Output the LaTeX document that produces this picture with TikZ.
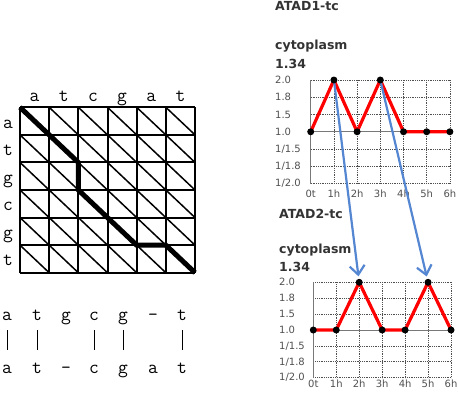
\documentclass[tikz,border=0pt]{standalone}
\usepackage{fontspec}
\usetikzlibrary{arrows.meta}
\newfontfamily\chartfont{DejaVu Sans}
\definecolor{arrowblue}{RGB}{84,134,210}
\definecolor{axisgray}{RGB}{120,120,120}
\definecolor{labelgray}{RGB}{80,80,80}
\tikzset{
  seq/.style={font=\ttfamily\fontsize{19}{19}\selectfont, anchor=base, inner sep=0pt},
  gridline/.style={line width=2pt},
  diag/.style={line width=1.5pt},
  pathline/.style={line width=5pt, line cap=butt, line join=miter},
  dotgrid/.style={densely dotted, line width=0.8pt, labelgray},
  axisline/.style={line width=1pt, axisgray},
  ticklab/.style={font=\chartfont\fontsize{10}{10}\selectfont, text=labelgray, inner sep=0pt},
  titlelab/.style={font=\chartfont\bfseries\fontsize{12.5}{12.5}\selectfont, text=black!80, inner sep=0pt, anchor=base west},
  dataline/.style={red, line width=3.2pt, line join=round},
  datadot/.style={circle, fill=black, inner sep=0pt, minimum size=7pt},
  linkarrow/.style={arrowblue, line width=2.2pt, -{Straight Barb[length=9pt,width=15pt,line width=2.2pt]}, shorten >=6pt},
}
\newcommand{\drawchart}[6]{%
  % #1 x0, #2 dx, #3 ytop, #4 dy, #5 label x, #6 x-label baseline offset
  \foreach \i in {0,...,6}{
    \draw[dotgrid] (#1,#3+\i*#4) -- (#1+6*#2,#3+\i*#4);
  }
  \foreach \j in {1,...,6}{
    \draw[dotgrid] (#1+\j*#2,#3) -- (#1+\j*#2,#3+6*#4);
  }
  \draw[axisline] (#1,#3) -- (#1,#3+6*#4);
  \draw[axisline] (#1,#3+3*#4) -- (#1+6*#2,#3+3*#4);
  \foreach \lab [count=\i from 0] in {2.0,1.8,1.5,1.0,1/1.5,1/1.8,1/2.0}{
    \node[ticklab, anchor=west] at (#5,#3+\i*#4) {\lab};
  }
  \foreach \lab [count=\j from 0] in {0t,1h,2h,3h,4h,5h,6h}{
    \node[ticklab, anchor=base] at (#1+\j*#2,#3+6*#4+#6) {\lab};
  }
}
\begin{document}
\begin{tikzpicture}[x=1pt,y=-1pt]
\useasboundingbox (0,0) rectangle (458,392);
% ---------- dynamic programming grid ----------
\def\gx{20} \def\gy{107.3} \def\cw{29.17} \def\ch{27.57}
\foreach \i in {0,...,5}{
  \foreach \j in {0,...,5}{
    \draw[diag] (\gx+\i*\cw,\gy+\j*\ch) -- (\gx+\i*\cw+\cw,\gy+\j*\ch+\ch);
  }
}
\foreach \i in {0,...,6}{
  \draw[gridline] (\gx+\i*\cw,\gy) -- (\gx+\i*\cw,\gy+6*\ch);
  \draw[gridline] (\gx,\gy+\i*\ch) -- (\gx+6*\cw,\gy+\i*\ch);
}
\coordinate (p0) at (\gx,\gy);
\coordinate (p1) at (\gx+2*\cw,\gy+2*\ch);
\coordinate (p2) at (\gx+2*\cw,\gy+3*\ch);
\coordinate (p3) at (\gx+4*\cw,\gy+5*\ch);
\coordinate (p4) at (\gx+5*\cw,\gy+5*\ch);
\coordinate (p5) at (\gx+6*\cw,\gy+6*\ch);
\draw[pathline] (p0) -- (p1) -- (p2) -- (p3) -- (p4) -- (p5);
\foreach \c [count=\i from 0] in {a,t,c,g,a,t}{
  \node[seq] (col\i) at (\gx+\i*\cw+0.5*\cw,101.5) {\c};
}
\foreach \c [count=\i from 0] in {a,t,g,c,g,t}{
  \node[seq] (row\i) at (8,\gy+\i*\ch+0.5*\ch+7) {\c};
}
% ---------- alignment ----------
\foreach \c/\x [count=\i] in {a/7,t/37,g/66,c/94,g/123,-/153,t/182}{
  \node[seq] (top\i) at (\x,320.7) {\c};
}
\foreach \c/\x [count=\i] in {a/7,t/37,-/66,c/94,g/123,a/153,t/182}{
  \node[seq] (bot\i) at (\x,373.3) {\c};
}
\foreach \x in {7,37,94,123,182}{
  \draw[line width=1pt] (\x,330) -- (\x,350);
}
% ---------- chart 1 ----------
\node[titlelab] (t1) at (275,10.5) {ATAD1-tc};
\node[titlelab] (c1) at (275,49) {cytoplasm};
\node[titlelab] (v1) at (275,68) {1.34};
\drawchart{310.7}{23.2}{80}{17.25}{275}{14}
% ---------- chart 2 ----------
\node[titlelab] (t2) at (279,218.3) {ATAD2-tc};
\node[titlelab] (c2) at (279,253.3) {cytoplasm};
\node[titlelab] (v2) at (279,271) {1.34};
\drawchart{313.3}{22.95}{282.3}{15.9}{279}{10}
% data points
\foreach \v [count=\j from 0] in {1,0,1,0,1,1,1}{
  \coordinate (a\j) at (310.7+\j*23.2,80+\v*3*17.25);
}
\foreach \v [count=\j from 0] in {1,1,0,1,1,0,1}{
  \coordinate (b\j) at (313.3+\j*22.95,282.3+\v*3*15.9);
}
\draw[dataline] (a0) -- (a1) -- (a2) -- (a3) -- (a4) -- (a5) -- (a6);
\draw[dataline] (b0) -- (b1) -- (b2) -- (b3) -- (b4) -- (b5) -- (b6);
\draw[linkarrow] (a1) -- (b2);
\draw[linkarrow] (a3) -- (b5);
\foreach \j in {0,...,6}{
  \node[datadot] (da\j) at (a\j) {};
  \node[datadot] (db\j) at (b\j) {};
}
\end{tikzpicture}
\end{document}
